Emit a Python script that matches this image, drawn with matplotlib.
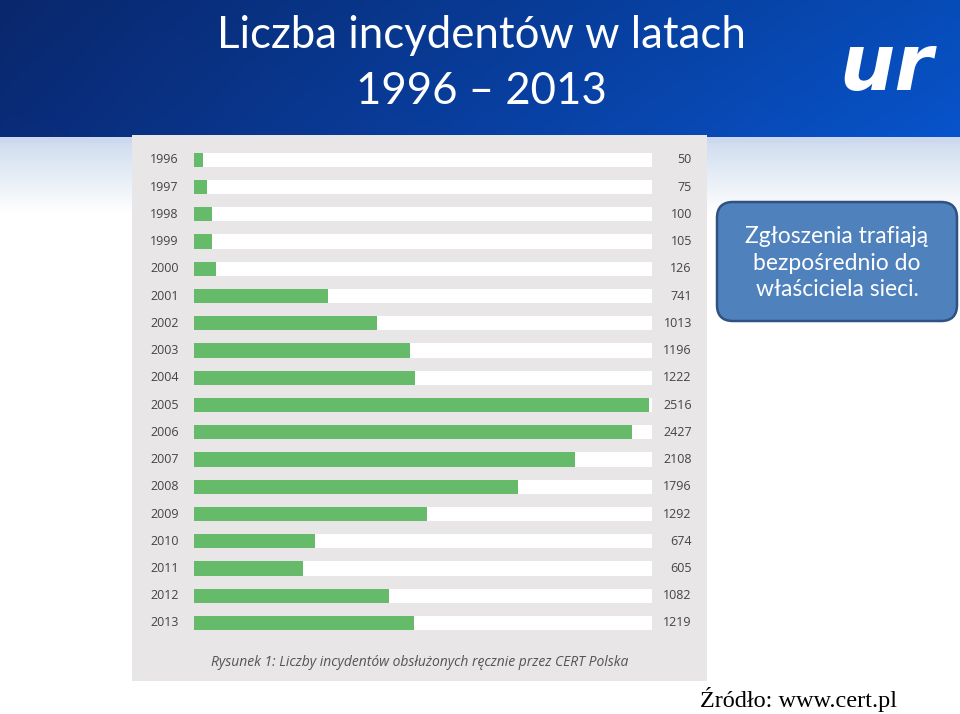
import numpy as np
import matplotlib.pyplot as plt
from matplotlib.patches import Rectangle, FancyBboxPatch

years = ['1996', '1997', '1998', '1999', '2000', '2001', '2002', '2003', '2004',
         '2005', '2006', '2007', '2008', '2009', '2010', '2011', '2012', '2013']
incidents = [50, 75, 100, 105, 126, 741, 1013, 1196, 1222,
             2516, 2427, 2108, 1796, 1292, 674, 605, 1082, 1219]

title_lines = ['Liczba incydentów w latach', '1996 – 2013']
caption = 'Rysunek 1: Liczby incydentów obsłużonych ręcznie przez CERT Polska'
callout = 'Zgłoszenia trafiają\nbezpośrednio do\nwłaściciela sieci.'
source = 'Źródło: www.cert.pl'

W, H = 960, 714
fig = plt.figure(figsize=(W / 100, H / 100), dpi=100)

# slide background: blue header band + pale gradient below
bg = fig.add_axes([0, 0, 1, 1])
yy, xx = np.mgrid[0:H, 0:W]
img = np.ones((H, W, 3))
t = xx / W
dark = np.array([0.04, 0.17, 0.47])
light = np.array([0.03, 0.33, 0.80])
head = dark[None, None, :] * (1 - t[..., None]) + light[None, None, :] * t[..., None]
vert = (yy / 137.0)[..., None]
head = head * (0.9 + 0.1 * vert)
mask = yy < 137
img[mask] = head[mask]
# pale strip under header
strip = (yy >= 137) & (yy < 143)
img[strip] = [0.80, 0.85, 0.93]
fade = (yy >= 143)
f = np.clip((yy - 143) / 70.0, 0, 1)[..., None]
pale = np.array([0.82, 0.87, 0.94])
body = pale * (1 - f) + 1.0 * f
img[fade] = body[fade]
bg.imshow(img, extent=[0, W, H, 0], aspect='auto')
bg.set_xlim(0, W)
bg.set_ylim(H, 0)
bg.axis('off')

for i, line in enumerate(title_lines):
    bg.text(481, 36 + i * 55, line, color='white', fontsize=31.5, family='Lato',
            ha='center', va='center')

# rough logo
bg.text(886, 68, 'ur', color='white', fontsize=56, fontweight='bold', style='italic',
        family='DejaVu Sans', ha='center', va='center')

# chart panel
bg.add_patch(Rectangle((132, 135), 575, 546, facecolor='#e8e6e6', edgecolor='none'))
bg.text(420, 663, caption, fontsize=10, style='italic', family='Open Sans',
        color='#555555', ha='center', va='center')

# callout box
bg.add_patch(FancyBboxPatch((717, 202), 240, 119, boxstyle='round,pad=0,rounding_size=16',
                            facecolor='#4f81bd', edgecolor='#2f5283', linewidth=1.8))
bg.text(837, 263, callout, color='white', fontsize=16.5, family='Lato',
        ha='center', va='center', linespacing=1.3)

bg.text(799, 700, source, fontsize=17.5, family='Liberation Serif', color='black',
        ha='center', va='center')

# bars
ax = fig.add_axes([193.5 / W, (H - 636.6) / H, 458.5 / W, 490.4 / H])
xmax = 2535
n = len(years)
ypos = np.arange(n)
ax.barh(ypos, [xmax] * n, height=0.52, color='white', left=0)
ax.barh(ypos, incidents, height=0.52, color='#66bb6a')
ax.set_xlim(0, xmax)
ax.set_ylim(n - 0.5, -0.5)
ax.axis('off')
for i in range(n):
    ax.text(-240, ypos[i], years[i], fontsize=9, family='Open Sans', color='#444444',
            ha='left', va='center', clip_on=False)
    ax.text(2755, ypos[i], str(incidents[i]), fontsize=9, family='Open Sans',
            color='#444444', ha='right', va='center', clip_on=False)

fig.savefig('out.png', dpi=100)
